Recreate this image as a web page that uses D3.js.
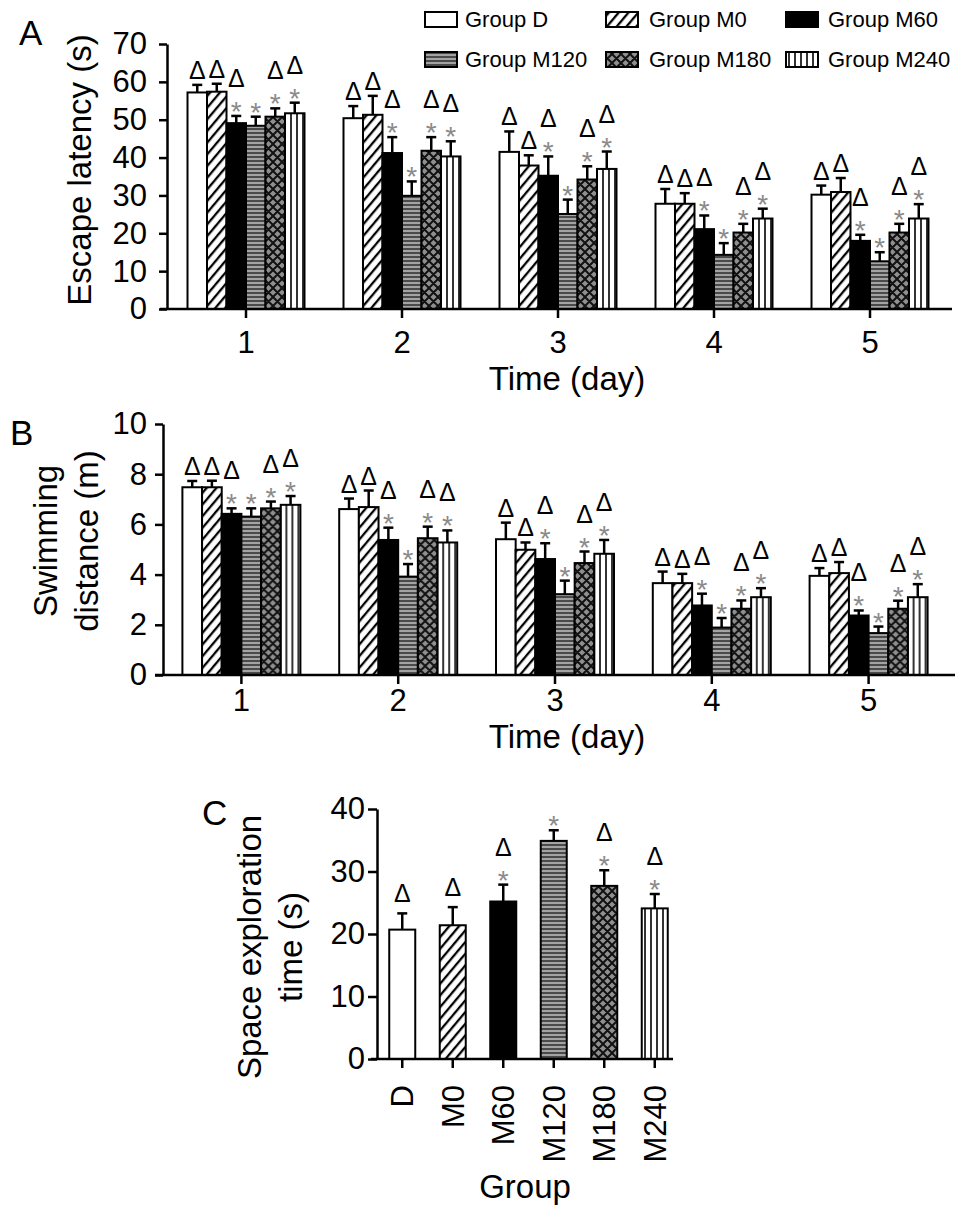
<!DOCTYPE html>
<html>
<head>
<meta charset="utf-8">
<script src="https://cdn.jsdelivr.net/npm/d3@7"></script>
<style>
  body { margin: 0; background: #fff; }
  text { font-family: "Liberation Sans", Arial, Helvetica, sans-serif; }
</style>
</head>
<body>
<div id="chart"></div>
<script>
// ---- data ----
var days = ["1", "2", "3", "4", "5"];
var groups = ["Group D", "Group M0", "Group M60", "Group M120", "Group M180", "Group M240"];
var groupShort = ["D", "M0", "M60", "M120", "M180", "M240"];

// rows = day, columns = group
var latencyMean = [
  [57.2, 57.4, 49.1, 48.4, 50.8, 51.7],
  [50.4, 51.3, 41.2, 29.9, 41.8, 40.3],
  [41.5, 37.9, 35.2, 25.1, 34.2, 37.0],
  [27.8, 27.8, 21.1, 14.3, 20.2, 23.9],
  [30.2, 30.9, 18.0, 12.6, 20.2, 23.9]
];
var latencyErr = [
  [2.0, 2.1, 1.9, 2.4, 2.2, 2.8],
  [3.2, 5.0, 4.2, 3.8, 3.6, 4.0],
  [5.4, 2.7, 5.1, 3.8, 3.5, 4.6],
  [3.9, 2.8, 3.6, 3.1, 2.3, 2.6],
  [2.4, 3.7, 1.6, 2.4, 2.3, 3.8]
];
var distanceMean = [
  [7.48, 7.48, 6.42, 6.31, 6.64, 6.78],
  [6.61, 6.69, 5.38, 3.92, 5.45, 5.28],
  [5.41, 4.99, 4.62, 3.22, 4.46, 4.83],
  [3.66, 3.66, 2.77, 1.89, 2.64, 3.10],
  [3.95, 4.06, 2.37, 1.67, 2.64, 3.10]
];
var distanceErr = [
  [0.25, 0.26, 0.22, 0.33, 0.27, 0.35],
  [0.42, 0.66, 0.49, 0.50, 0.46, 0.48],
  [0.66, 0.29, 0.63, 0.54, 0.46, 0.55],
  [0.46, 0.37, 0.47, 0.38, 0.33, 0.36],
  [0.31, 0.44, 0.20, 0.26, 0.32, 0.52]
];
var exploreMean = [20.7, 21.4, 25.2, 34.9, 27.7, 24.1];
var exploreErr = [2.6, 2.9, 2.7, 1.7, 2.5, 2.3];

// significance marks per group
var deltaMark = [1, 1, 1, 0, 1, 1];
var starMark = [0, 0, 1, 1, 1, 1];

var latencyTicks = [0, 10, 20, 30, 40, 50, 60, 70];
var distanceTicks = [0, 2, 4, 6, 8, 10];
var exploreTicks = [0, 10, 20, 30, 40];

// ---- svg + fill patterns ----
var svg = d3.select("#chart").append("svg")
  .attr("width", 969).attr("height", 1222)
  .style("background", "#fff");

var defs = svg.append("defs");

var hatch = defs.append("pattern").attr("id", "hatch")
  .attr("patternUnits", "userSpaceOnUse").attr("width", 7.5).attr("height", 7.5)
  .attr("patternTransform", "rotate(40)");
hatch.append("rect").attr("width", 7.5).attr("height", 7.5).attr("fill", "#fff");
hatch.append("line").attr("x1", 2).attr("x2", 2).attr("y1", 0).attr("y2", 7.5)
  .attr("stroke", "#000").attr("stroke-width", 2.3);

var hstripe = defs.append("pattern").attr("id", "hstripe")
  .attr("patternUnits", "userSpaceOnUse").attr("width", 4).attr("height", 4);
hstripe.append("rect").attr("width", 4).attr("height", 4).attr("fill", "#a3a3a3");
hstripe.append("rect").attr("width", 4).attr("height", 2).attr("fill", "#4a4a4a");

var xhatch = defs.append("pattern").attr("id", "xhatch")
  .attr("patternUnits", "userSpaceOnUse").attr("width", 9).attr("height", 9);
xhatch.append("rect").attr("width", 9).attr("height", 9).attr("fill", "#8f8f8f");
xhatch.append("path")
  .attr("d", "M0,0L9,9M9,0L0,9M-2,2L2,-2M7,11L11,7M-2,7L2,11M7,-2L11,2")
  .attr("stroke", "#111").attr("stroke-width", 2);

var vstripe = defs.append("pattern").attr("id", "vstripe")
  .attr("patternUnits", "userSpaceOnUse").attr("width", 6).attr("height", 6);
vstripe.append("rect").attr("width", 6).attr("height", 6).attr("fill", "#fff");
vstripe.append("line").attr("x1", 3).attr("x2", 3).attr("y1", 0).attr("y2", 6)
  .attr("stroke", "#000").attr("stroke-width", 1.6);

var fills = ["#fff", "url(#hatch)", "#000", "url(#hstripe)", "url(#xhatch)", "url(#vstripe)"];

// ---- helpers ----
function styleAxis(g, fs) {
  g.attr("font-size", null).attr("font-family", null);
  g.selectAll("line, path").attr("stroke", "#000").attr("stroke-width", 2.5);
  g.selectAll("text").attr("fill", "#000").style("font-size", fs + "px");
}

function marks(g, cx, errTop, j, deltaGap) {
  if (starMark[j]) {
    g.append("text").attr("x", cx).attr("y", errTop - 11 + 16)
      .attr("text-anchor", "middle").attr("fill", "#8a8a8a")
      .style("font-size", "28px").text("*");
  }
  if (deltaMark[j]) {
    var c = starMark[j] ? errTop - 38 : errTop - deltaGap;
    g.append("text").attr("x", cx).attr("y", c + 9)
      .attr("text-anchor", "middle").attr("fill", "#000")
      .style("font-size", "25px").text("\u0394");
  }
}

function errorBar(g, cx, yTop, yErr) {
  g.append("line").attr("x1", cx).attr("x2", cx).attr("y1", yTop).attr("y2", yErr)
    .attr("stroke", "#000").attr("stroke-width", 2.5);
  g.append("line").attr("x1", cx - 5).attr("x2", cx + 5).attr("y1", yErr).attr("y2", yErr)
    .attr("stroke", "#000").attr("stroke-width", 2.5);
}

function groupedPanel(means, errs, ticks, cfg) {
  var x0 = d3.scaleBand().domain(days)
    .range([cfg.xStart, cfg.xStart + cfg.step * days.length]);
  var x1 = d3.scaleBand().domain(groups).range([-cfg.groupW / 2, cfg.groupW / 2]);
  var y = d3.scaleLinear().domain([0, d3.max(ticks)]).range([cfg.y0, cfg.yTop]);

  var g = svg.append("g");

  // axes
  var ya = g.append("g").attr("transform", "translate(" + cfg.yAxisX + ",0)")
    .call(d3.axisLeft(y).tickValues(ticks).tickSize(8).tickPadding(cfg.tickPad).tickSizeOuter(0));
  styleAxis(ya, 31);

  var xa = g.append("g").attr("transform", "translate(0," + cfg.y0 + ")")
    .call(d3.axisBottom(x0).tickSize(9).tickPadding(cfg.xTickPad).tickSizeOuter(0));
  xa.select(".domain").remove();
  styleAxis(xa, 31);

  // bars
  days.forEach(function(day, i) {
    var cx0 = x0(day) + x0.bandwidth() / 2;
    var dg = g.append("g").attr("transform", "translate(" + cx0 + ",0)");
    var rows = means[i].map(function(v, j) { return {v: v, e: errs[i][j], j: j}; });
    dg.selectAll("rect").data(rows).enter().append("rect")
      .attr("x", function(d) { return x1(groups[d.j]); })
      .attr("width", x1.bandwidth())
      .attr("y", function(d) { return y(d.v); })
      .attr("height", function(d) { return y(0) - y(d.v); })
      .attr("fill", function(d) { return fills[d.j]; })
      .attr("stroke", "#000").attr("stroke-width", 2);
    rows.forEach(function(d) {
      var cx = x1(groups[d.j]) + x1.bandwidth() / 2;
      errorBar(dg, cx, y(d.v), y(d.v + d.e));
      marks(dg, cx, y(d.v + d.e), d.j, 15);
    });
  });

  g.append("line").attr("x1", cfg.axisFrom).attr("x2", cfg.axisTo)
    .attr("y1", cfg.y0).attr("y2", cfg.y0)
    .attr("stroke", "#000").attr("stroke-width", 2.5);

  g.append("text").attr("x", 567).attr("y", cfg.xTitleY)
    .attr("text-anchor", "middle").style("font-size", "33px").text("Time (day)");
  return g;
}

// ---- panel A ----
groupedPanel(latencyMean, latencyErr, latencyTicks, {
  xStart: 168, step: 156, groupW: 117, y0: 309, yTop: 44, yAxisX: 167,
  axisFrom: 160, axisTo: 952, tickPad: 12, xTickPad: 13, xTitleY: 390
});
svg.append("text").attr("transform", "translate(91,170) rotate(-90)")
  .attr("text-anchor", "middle").style("font-size", "33px").text("Escape latency (s)");
svg.append("text").attr("x", 19).attr("y", 45).style("font-size", "35px").text("A");

// ---- panel B ----
groupedPanel(distanceMean, distanceErr, distanceTicks, {
  xStart: 163, step: 156.8, groupW: 118, y0: 675, yTop: 424, yAxisX: 163,
  axisFrom: 155, axisTo: 955, tickPad: 8, xTickPad: 5, xTitleY: 748
});
svg.append("text").attr("transform", "translate(57,541) rotate(-90)")
  .attr("text-anchor", "middle").style("font-size", "33px").text("Swimming");
svg.append("text").attr("transform", "translate(98,541) rotate(-90)")
  .attr("text-anchor", "middle").style("font-size", "33px").text("distance (m)");
svg.append("text").attr("x", 10).attr("y", 445).style("font-size", "35px").text("B");

// ---- panel C ----
(function() {
  var x = d3.scaleBand().domain(groupShort).range([377, 680])
    .paddingInner(0.485).paddingOuter(0.2425);
  var y = d3.scaleLinear().domain([0, d3.max(exploreTicks)]).range([1059, 809]);
  var g = svg.append("g");

  var ya = g.append("g").attr("transform", "translate(377,0)")
    .call(d3.axisLeft(y).tickValues(exploreTicks).tickSize(9).tickPadding(3).tickSizeOuter(0));
  styleAxis(ya, 31);

  var xa = g.append("g").attr("transform", "translate(0,1059)")
    .call(d3.axisBottom(x).tickSize(9).tickSizeOuter(0));
  xa.select(".domain").remove();
  styleAxis(xa, 31);
  xa.selectAll("text")
    .attr("transform", "translate(0,26) rotate(-90)")
    .attr("x", 0).attr("y", 0).attr("dy", "0.36em")
    .attr("text-anchor", "end");

  g.selectAll("rect.bar").data(exploreMean).enter().append("rect")
    .attr("class", "bar")
    .attr("x", function(d, j) { return x(groupShort[j]); })
    .attr("width", x.bandwidth())
    .attr("y", function(d) { return y(d); })
    .attr("height", function(d) { return y(0) - y(d); })
    .attr("fill", function(d, j) { return fills[j]; })
    .attr("stroke", "#000").attr("stroke-width", 2);

  exploreMean.forEach(function(v, j) {
    var cx = x(groupShort[j]) + x.bandwidth() / 2;
    errorBar(g, cx, y(v), y(v + exploreErr[j]));
    marks(g, cx, y(v + exploreErr[j]), j, 20);
  });

  g.append("line").attr("x1", 371).attr("x2", 673).attr("y1", 1059).attr("y2", 1059)
    .attr("stroke", "#000").attr("stroke-width", 2.5);

  g.append("text").attr("x", 525).attr("y", 1198).attr("text-anchor", "middle")
    .style("font-size", "33px").text("Group");
  g.append("text").attr("transform", "translate(261,947) rotate(-90)")
    .attr("text-anchor", "middle").style("font-size", "33px").text("Space exploration");
  g.append("text").attr("transform", "translate(302,947) rotate(-90)")
    .attr("text-anchor", "middle").style("font-size", "33px").text("time (s)");
  svg.append("text").attr("x", 202).attr("y", 825).style("font-size", "35px").text("C");
})();

// ---- legend ----
var legendCols = [{sw: 425, tx: 465}, {sw: 606, tx: 649}, {sw: 786, tx: 828}];
var legendRows = [27, 67];
var lg = svg.append("g");
groups.forEach(function(name, j) {
  var col = legendCols[j % 3], base = legendRows[Math.floor(j / 3)];
  lg.append("rect").attr("x", col.sw).attr("y", base - 15).attr("width", 32).attr("height", 15)
    .attr("fill", fills[j]).attr("stroke", "#000").attr("stroke-width", 2);
  lg.append("text").attr("x", col.tx).attr("y", base).style("font-size", "22px").text(name);
});
</script>
</body>
</html>
